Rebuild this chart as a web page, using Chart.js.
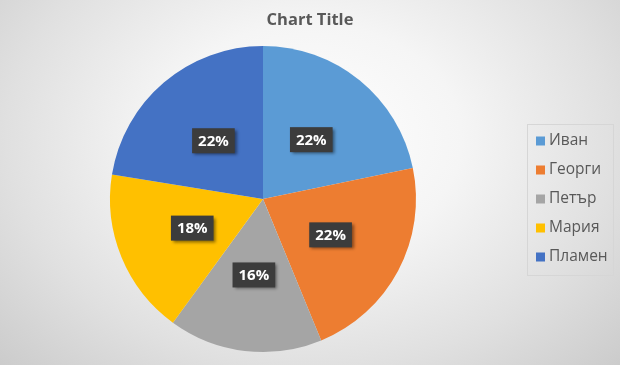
<!DOCTYPE html>
<html>
<head>
<meta charset="utf-8">
<script src="https://cdn.jsdelivr.net/npm/chart.js@4.4.0/dist/chart.umd.min.js"></script>
<style>
  html, body { margin: 0; padding: 0; }
  body {
    width: 620px; height: 365px; overflow: hidden;
    background: radial-gradient(ellipse 70% 90% at 50% 38%, #ffffff 0%, #f5f5f5 35%, #e0e0e0 70%, #cbcbcb 100%);
  }
  #pieChart { display: block; }
</style>
</head>
<body>
<canvas id="pieChart" width="620" height="365"></canvas>
<script>
const names = ["Иван", "Георги", "Петър", "Мария", "Пламен"];
const shares = [21.7, 22, 16.2, 17.5, 22.4];
const sliceColors = ["#5b9bd5", "#ed7d31", "#a5a5a5", "#ffc000", "#4472c4"];
const chartTitle = "Chart Title";

const FONT = "'Open Sans', 'Noto Sans', sans-serif";

// title centred over the whole picture, not only the pie area
const topTitle = {
  id: "topTitle",
  afterDraw(chart) {
    const ctx = chart.ctx;
    ctx.save();
    ctx.font = "bold 16.5px " + FONT;
    ctx.fillStyle = "#595959";
    ctx.textAlign = "center";
    ctx.textBaseline = "middle";
    ctx.fillText(chartTitle, 310, 20);
    ctx.restore();
  }
};

// percentage labels in dark boxes
const pctLabels = {
  id: "pctLabels",
  afterDatasetsDraw(chart) {
    const ctx = chart.ctx;
    const meta = chart.getDatasetMeta(0);
    const total = shares.reduce((a, b) => a + b, 0);
    ctx.save();
    ctx.font = "bold 15px " + FONT;
    ctx.textAlign = "center";
    ctx.textBaseline = "middle";
    meta.data.forEach((arc, i) => {
      const p = arc.tooltipPosition();
      const txt = Math.round(shares[i] / total * 100) + "%";
      const w = ctx.measureText(txt).width + 12;
      const h = 25;
      ctx.shadowColor = "rgba(0,0,0,0.45)";
      ctx.shadowBlur = 3;
      ctx.shadowOffsetX = 2;
      ctx.shadowOffsetY = 2;
      ctx.fillStyle = "#3c3c3c";
      ctx.fillRect(p.x - w / 2, p.y - h / 2, w, h);
      ctx.shadowColor = "transparent";
      ctx.fillStyle = "#ffffff";
      ctx.fillText(txt, p.x, p.y + 1);
    });
    ctx.restore();
  }
};

// legend box on the right
const sideLegend = {
  id: "sideLegend",
  afterDraw(chart) {
    const ctx = chart.ctx;
    ctx.save();
    ctx.strokeStyle = "#d6d6d6";
    ctx.lineWidth = 1;
    ctx.strokeRect(527.5, 124.5, 86, 151);
    ctx.font = "15.5px " + FONT;
    ctx.textBaseline = "middle";
    ctx.textAlign = "left";
    names.forEach((n, i) => {
      const y = 141 + i * 29;
      ctx.fillStyle = sliceColors[i];
      ctx.fillRect(536, y - 4.5, 9, 9);
      ctx.fillStyle = "#595959";
      ctx.fillText(n, 549, y);
    });
    ctx.restore();
  }
};

new Chart(document.getElementById("pieChart"), {
  type: "pie",
  data: {
    labels: names,
    datasets: [{
      data: shares,
      backgroundColor: sliceColors,
      borderWidth: 0
    }]
  },
  options: {
    responsive: false,
    animation: false,
    layout: { padding: { left: 110, right: 204, top: 46, bottom: 13 } },
    plugins: {
      legend: { display: false },
      tooltip: { enabled: false },
      title: { display: false }
    }
  },
  plugins: [pctLabels, sideLegend, topTitle]
});
</script>
</body>
</html>
